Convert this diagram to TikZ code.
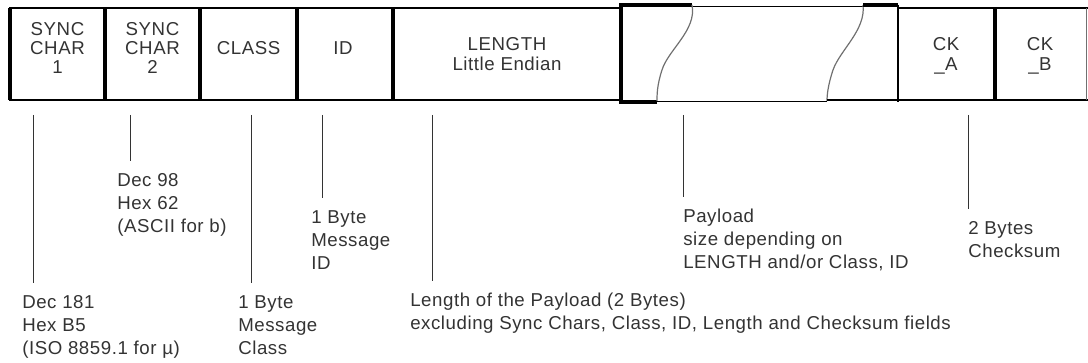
\documentclass[tikz,border=0pt]{standalone}
\usepackage{fontspec}
\setmainfont{Liberation Sans}[LetterSpace=3]
\usetikzlibrary{positioning}
\definecolor{InkGrey}{HTML}{333333}
\definecolor{CurveGrey}{HTML}{707070}

\begin{document}
\begin{tikzpicture}[
  x=0.75pt, y=-0.75pt,
  field/.style={font=\fontsize{14}{14.6}\selectfont, align=center, text=InkGrey, inner sep=0pt},
  note/.style={font=\fontsize{14}{17.25}\selectfont, align=left, anchor=north west, text=InkGrey, inner sep=0pt},
  frame/.style={line width=1.5pt},
  divider/.style={line width=3pt},
  lead/.style={line width=0.75pt, draw=InkGrey, shorten >=9pt},
  wave/.style={line width=0.9pt, draw=CurveGrey}
]
  \useasboundingbox (0,0) rectangle (1088,363);

  % frame of the message
  \draw[frame] (621,8) -- (10,8) -- (10,100) -- (621,100);
  \draw[divider] (10,8) -- (10,100);
  \foreach \x in {105,200,297,393}
    \draw[divider] (\x,8) -- (\x,100);
  \draw[divider] (692,5) -- (621,5) -- (621,102) -- (657,102);
  \draw[line width=0.75pt] (692,7) -- (863,7);
  \draw[line width=0.75pt] (657,102) -- (827,102);
  \draw[wave] (692,5) .. controls (697,30) and (668,50) .. (662,70) .. controls (657,85) and (657,95) .. (657,101);
  \draw[wave] (863,5) .. controls (866,30) and (840,50) .. (833,70) .. controls (828,85) and (827,95) .. (827,101);
  \draw[divider] (863,5) -- (898,5);
  \draw[frame] (827,100) -- (898,100);
  \draw[frame] (898,5) -- (898,102);
  \draw[frame] (898,8) -- (1088,8);
  \draw[frame] (898,100) -- (1088,100);
  \draw[divider] (995,8) -- (995,100);
  \draw[line width=0.75pt, draw=CurveGrey] (1086,8) -- (1086,100);

  % fields
  \node[field] (sync1) at (57.5,48) {SYNC\\CHAR\\1};
  \node[field] (sync2) at (152.5,48) {SYNC\\CHAR\\2};
  \node[field] (cls) at (248.5,48) {CLASS};
  \node[field] (id) at (343,48) {ID};
  \node[field] (len) at (507,54) {LENGTH\\Little Endian};
  \node[field] (cka) at (946,56) {CK\\\_A};
  \node[field] (ckb) at (1040,56) {CK\\\_B};

  % notes below
  \node[note] (sync1N) at (22,295) {Dec 181\\Hex B5\\(ISO 8859.1 for µ)};
  \node[note] (sync2N) at (117,173) {Dec 98\\Hex 62\\(ASCII for b)};
  \node[note] (clsN) at (238,295) {1 Byte\\Message\\Class};
  \node[note] (idN) at (311,210) {1 Byte\\Message\\ID};
  \node[note] (lenN) at (410,293) {Length of the Payload (2 Bytes)\\excluding Sync Chars, Class, ID, Length and Checksum fields};
  \node[note] (payN) at (683,209) {Payload\\size depending on\\LENGTH and/or Class, ID};
  \node[note] (ckN) at (968,221) {2 Bytes\\Checksum};

  % leaders
  \coordinate (sync1T) at (33,115);
  \coordinate (sync2T) at (130,115);
  \coordinate (clsT) at (251,115);
  \coordinate (idT) at (322,115);
  \coordinate (lenT) at (432,115);
  \coordinate (payT) at (683,115);
  \coordinate (ckT) at (968,115);
  \draw[lead] (sync1T) -- (sync1T |- sync1N.north);
  \draw[lead] (sync2T) -- (sync2T |- sync2N.north);
  \draw[lead] (clsT) -- (clsT |- clsN.north);
  \draw[lead] (idT) -- (idT |- idN.north);
  \draw[lead] (lenT) -- (lenT |- lenN.north);
  \draw[lead] (payT) -- (payT |- payN.north);
  \draw[lead] (ckT) -- (ckT |- ckN.north);
\end{tikzpicture}
\end{document}
